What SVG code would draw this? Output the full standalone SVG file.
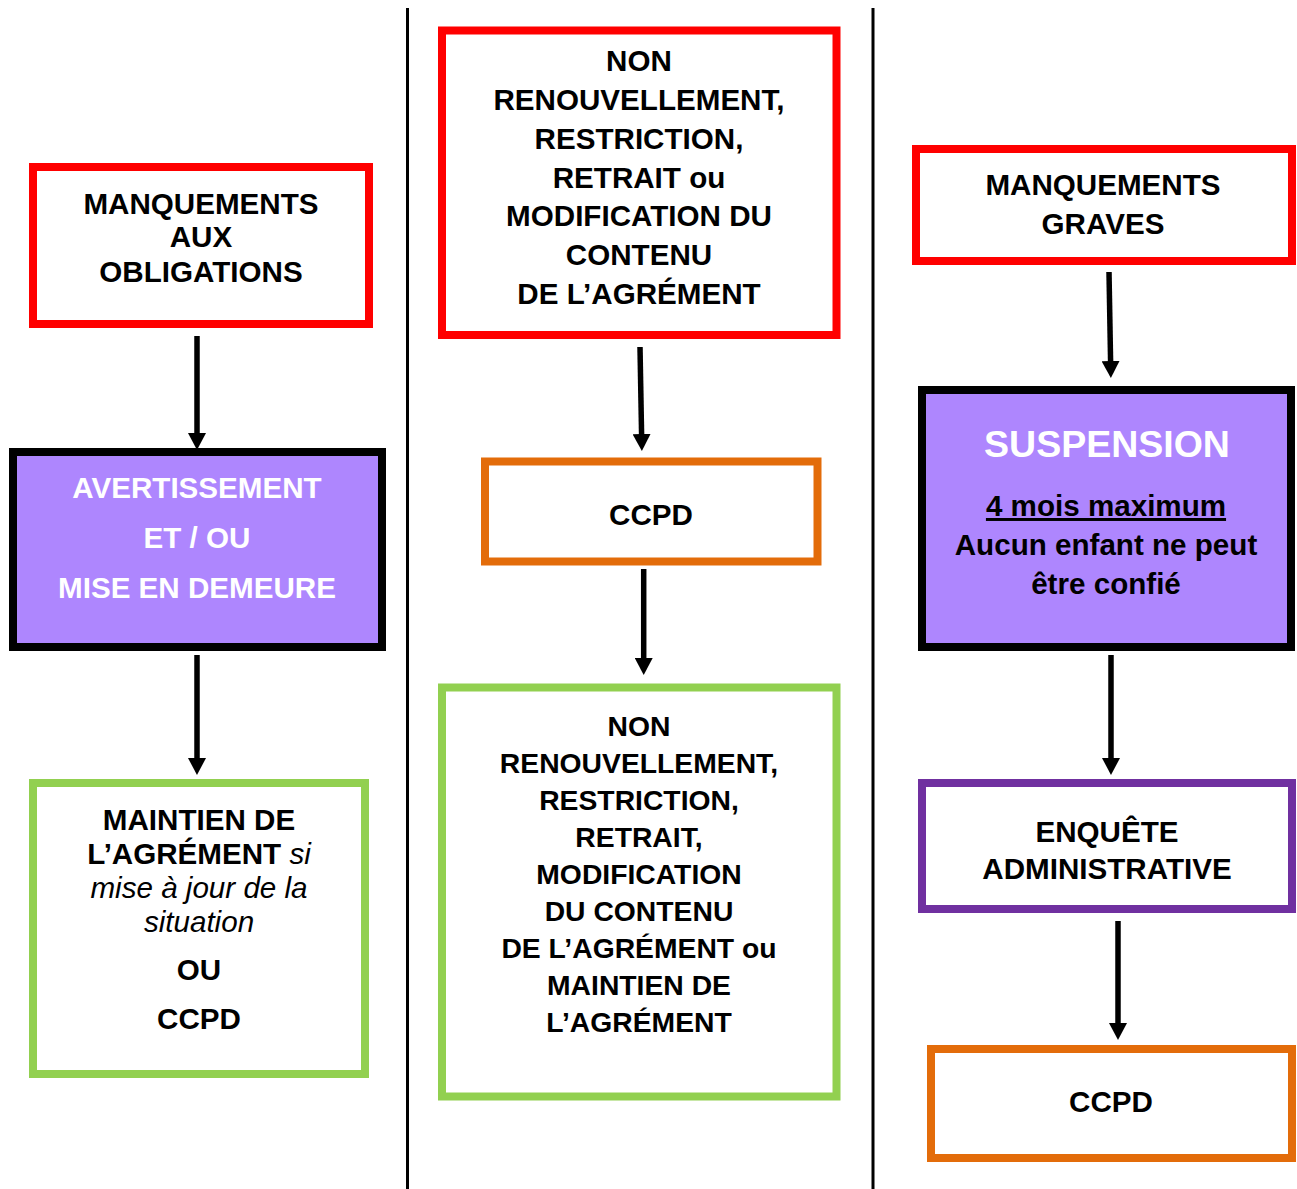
<svg xmlns="http://www.w3.org/2000/svg" width="1297" height="1189" viewBox="0 0 1297 1189">
<style>
.box{fill:#ffffff;stroke-width:8}
.red{stroke:#ff0000}
.green{stroke:#92d050}
.orange{stroke:#e36c0a}
.violet{stroke:#7030a0}
.dark{stroke:#000000;fill:#ae86fe}
text{font-family:"Liberation Sans",Arial,sans-serif;font-size:29.6px;font-weight:bold;fill:#000;text-anchor:middle}
.w{fill:#ffffff}
.big{font-size:37.5px}
.sm text{font-size:28.3px}
.it{font-style:italic;font-weight:normal}
.div{stroke:#000;stroke-width:3}
.conn line{stroke:#000;stroke-width:5.5}
</style>
<defs>
<marker id="ah" markerUnits="userSpaceOnUse" markerWidth="17" markerHeight="18" viewBox="0 0 17 18" refX="1" refY="9" orient="auto">
<path d="M0,0 L17,9 L0,18 z" fill="#000"/>
</marker>
</defs>
<rect width="1297" height="1189" fill="#ffffff"/>
<g id="dividers">
<line class="div" x1="407.5" y1="8" x2="407.5" y2="1189"/>
<line class="div" x1="873" y1="8" x2="873" y2="1189"/>
</g>
<g id="left-1">
<rect class="box red" x="33" y="167" width="336" height="157"/>
<text x="201" y="214">MANQUEMENTS</text>
<text x="201" y="247">AUX</text>
<text x="201" y="282">OBLIGATIONS</text>
</g>
<g id="left-2">
<rect class="dark" stroke-width="8" x="13" y="452" width="369" height="195"/>
<text class="w" x="197" y="498">AVERTISSEMENT</text>
<text class="w" x="197" y="548">ET / OU</text>
<text class="w" x="197" y="598">MISE EN DEMEURE</text>
</g>
<g id="left-3">
<rect class="box green" x="33" y="783" width="332" height="291"/>
<text x="199" y="830">MAINTIEN DE</text>
<text x="199" y="864">L’AGRÉMENT <tspan class="it">si</tspan></text>
<text class="it" x="199" y="898">mise à jour de la</text>
<text class="it" x="199" y="932">situation</text>
<text x="199" y="980">OU</text>
<text x="199" y="1029">CCPD</text>
</g>
<g id="mid-1">
<rect class="box red" x="442" y="30.5" width="394.5" height="304.5"/>
<text x="639" y="71">NON</text>
<text x="639" y="110">RENOUVELLEMENT,</text>
<text x="639" y="149">RESTRICTION,</text>
<text x="639" y="188">RETRAIT ou</text>
<text x="639" y="226">MODIFICATION DU</text>
<text x="639" y="265">CONTENU</text>
<text x="639" y="304">DE L’AGRÉMENT</text>
</g>
<g id="mid-2">
<rect class="box orange" x="485" y="461.5" width="332.5" height="100"/>
<text x="651" y="525">CCPD</text>
</g>
<g id="mid-3" class="sm">
<rect class="box green" x="442" y="687.5" width="394.5" height="409"/>
<text x="639" y="736">NON</text>
<text x="639" y="773">RENOUVELLEMENT,</text>
<text x="639" y="810">RESTRICTION,</text>
<text x="639" y="847">RETRAIT,</text>
<text x="639" y="884">MODIFICATION</text>
<text x="639" y="921">DU CONTENU</text>
<text x="639" y="958">DE L’AGRÉMENT ou</text>
<text x="639" y="995">MAINTIEN DE</text>
<text x="639" y="1032">L’AGRÉMENT</text>
</g>
<g id="right-1">
<rect class="box red" x="916" y="149" width="376" height="112"/>
<text x="1103" y="195">MANQUEMENTS</text>
<text x="1103" y="234">GRAVES</text>
</g>
<g id="right-2">
<rect class="dark" stroke-width="8" x="922" y="390" width="369" height="257"/>
<text class="w big" x="1107" y="457">SUSPENSION</text>
<text x="1106" y="516" text-decoration="underline">4 mois maximum</text>
<text x="1106" y="555">Aucun enfant ne peut</text>
<text x="1106" y="594">être confié</text>
</g>
<g id="right-3">
<rect class="box violet" x="922" y="783" width="370" height="126"/>
<text x="1107" y="842">ENQUÊTE</text>
<text x="1107" y="879">ADMINISTRATIVE</text>
</g>
<g id="right-4">
<rect class="box orange" x="931" y="1049" width="361" height="109"/>
<text x="1111" y="1112">CCPD</text>
</g>
<g id="connectors" class="conn">
<line x1="197" y1="336" x2="197" y2="434" marker-end="url(#ah)"/>
<line x1="197" y1="655" x2="197" y2="759" marker-end="url(#ah)"/>
<line x1="640" y1="347" x2="641.6" y2="435" marker-end="url(#ah)"/>
<line x1="643.7" y1="569" x2="643.7" y2="659" marker-end="url(#ah)"/>
<line x1="1109" y1="272" x2="1110.6" y2="362" marker-end="url(#ah)"/>
<line x1="1111" y1="655" x2="1111" y2="759" marker-end="url(#ah)"/>
<line x1="1118" y1="921" x2="1118" y2="1024" marker-end="url(#ah)"/>
</g>
</svg>
